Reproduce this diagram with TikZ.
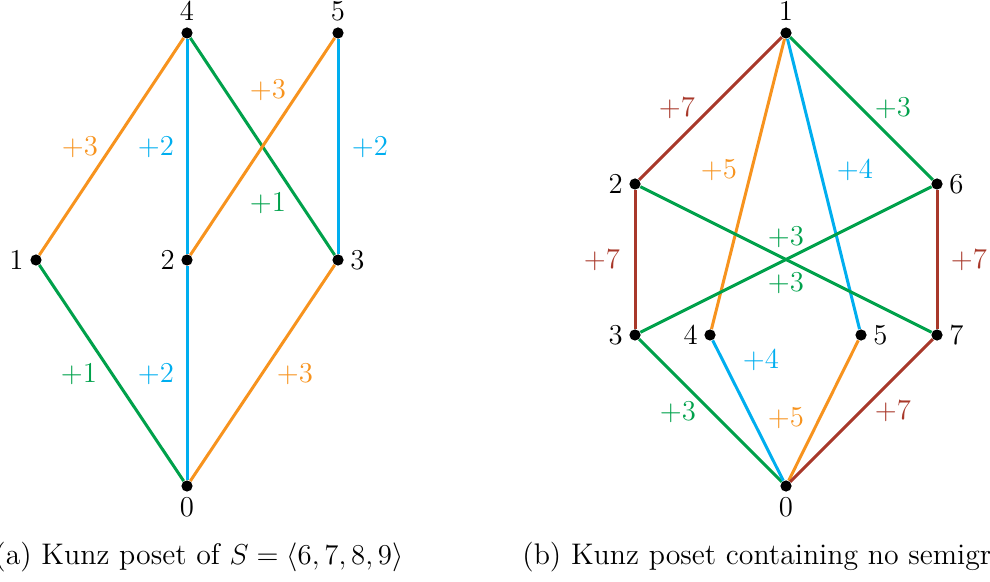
\documentclass[tikz,border=0pt]{standalone}
\usepackage{amsmath,amssymb}
\usepackage{xcolor}
\usepackage{tikz}
\usetikzlibrary{positioning}

\definecolor{kOrange}{HTML}{F7931E}
\definecolor{kBlue}{HTML}{00AEEF}
\definecolor{kGreen}{HTML}{00A14B}
\definecolor{kBrown}{HTML}{A8382A}

\begin{document}
\begin{tikzpicture}[
  x=0.5pt,y=-0.5pt,
  vert/.style={circle,fill=black,inner sep=0pt,minimum size=5.6pt},
  link/.style={line width=1.5pt},
  orange link/.style={link,draw=kOrange},
  blue link/.style={link,draw=kBlue},
  green link/.style={link,draw=kGreen},
  brown link/.style={link,draw=kBrown},
  every label/.style={font=\Large,inner sep=3pt},
  step label/.style={font=\Large,inner sep=0pt},
  caption/.style={anchor=base west,inner sep=0pt,font=\fontsize{14.9}{18}\selectfont}
]
  \useasboundingbox (0,0) rectangle (990,582);

  % (a) Kunz poset of S = <6,7,8,9>
  \node[vert,label=below:$0$] (a0) at (187,486) {};
  \node[vert,label=left:$1$]  (a1) at (36,260) {};
  \node[vert,label=left:$2$]  (a2) at (187,260) {};
  \node[vert,label=right:$3$] (a3) at (338,260) {};
  \node[vert,label=above:$4$] (a4) at (187,33) {};
  \node[vert,label=above:$5$] (a5) at (338,33) {};

  \draw[orange link] (a1) -- (a4);
  \draw[blue link]   (a2) -- (a4);
  \draw[green link]  (a4) -- (a3);
  \draw[orange link] (a2) -- (a5);
  \draw[blue link]   (a5) -- (a3);
  \draw[green link]  (a0) -- (a1);
  \draw[blue link]   (a0) -- (a2);
  \draw[orange link] (a0) -- (a3);

  \node[step label,text=kOrange] (a14) at (80,147)  {$+3$};
  \node[step label,text=kBlue]   (a24) at (156,147) {$+2$};
  \node[step label,text=kOrange] (a25) at (268,90)  {$+3$};
  \node[step label,text=kGreen]  (a43) at (268,203) {$+1$};
  \node[step label,text=kBlue]   (a53) at (370,147) {$+2$};
  \node[step label,text=kGreen]  (a01) at (79,374)  {$+1$};
  \node[step label,text=kBlue]   (a02) at (156,374) {$+2$};
  \node[step label,text=kOrange] (a03) at (295,374) {$+3$};

  % (b) Kunz poset containing no semigroup
  \node[vert,label=below:$0$] (b0) at (786,486) {};
  \node[vert,label=above:$1$] (b1) at (786,33) {};
  \node[vert,label=left:$2$]  (b2) at (635,184) {};
  \node[vert,label=left:$3$]  (b3) at (635,335) {};
  \node[vert,label=left:$4$]  (b4) at (710,335) {};
  \node[vert,label=right:$5$] (b5) at (861,335) {};
  \node[vert,label=right:$6$] (b6) at (937,184) {};
  \node[vert,label=right:$7$] (b7) at (937,335) {};

  \draw[brown link]  (b1) -- (b2);
  \draw[orange link] (b1) -- (b4);
  \draw[blue link]   (b1) -- (b5);
  \draw[green link]  (b1) -- (b6);
  \draw[brown link]  (b2) -- (b3);
  \draw[brown link]  (b6) -- (b7);
  \draw[green link]  (b2) -- (b7);
  \draw[green link]  (b3) -- (b6);
  \draw[green link]  (b3) -- (b0);
  \draw[blue link]   (b4) -- (b0);
  \draw[orange link] (b5) -- (b0);
  \draw[brown link]  (b7) -- (b0);

  \node[step label,text=kBrown]  (b12) at (677,108) {$+7$};
  \node[step label,text=kOrange] (b14) at (719,170) {$+5$};
  \node[step label,text=kBlue]   (b15) at (855,170) {$+4$};
  \node[step label,text=kGreen]  (b16) at (893,108) {$+3$};
  \node[step label,text=kBrown]  (b23) at (602,260) {$+7$};
  \node[step label,text=kBrown]  (b67) at (969,260) {$+7$};
  \node[step label,text=kGreen]  (b36) at (786,237) {$+3$};
  \node[step label,text=kGreen]  (b27) at (786,283) {$+3$};
  \node[step label,text=kGreen]  (b30) at (678,412) {$+3$};
  \node[step label,text=kBlue]   (b40) at (761,360) {$+4$};
  \node[step label,text=kOrange] (b50) at (786,418) {$+5$};
  \node[step label,text=kBrown]  (b70) at (893,411) {$+7$};

  % captions
  \node[caption] (capa) at (-6,564)
    {(a) Kunz poset of $S=\langle 6,7,8,9\rangle$};
  \node[caption] (capb) at (522,564)
    {(b) Kunz poset containing no semigr};
\end{tikzpicture}
\end{document}
